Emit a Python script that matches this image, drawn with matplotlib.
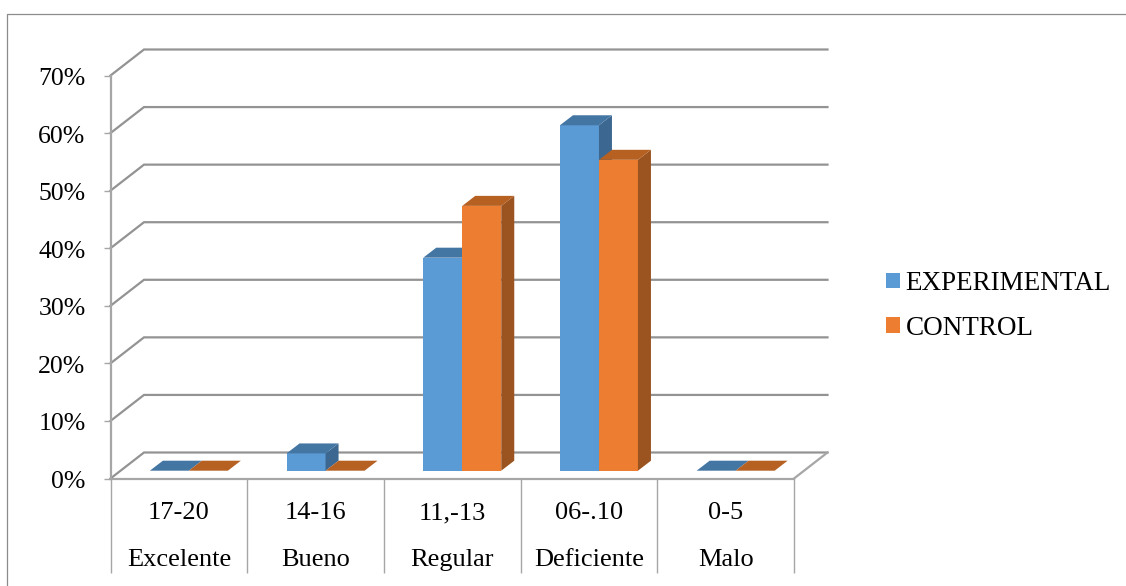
import matplotlib
matplotlib.use('Agg')
import matplotlib.pyplot as plt
from matplotlib.lines import Line2D
from matplotlib.patches import Patch, Polygon
from matplotlib.transforms import Affine2D

plt.rcParams['font.family'] = ['Liberation Serif', 'DejaVu Serif']

rangos = ['17-20', '14-16', '11,-13', '06-.10', '0-5']
niveles = ['Excelente', 'Bueno', 'Regular', 'Deficiente', 'Malo']
experimental = [0, 3, 37, 60, 0]
control = [0, 0, 46, 54, 0]
y_ticks = [0, 10, 20, 30, 40, 50, 60, 70]

W, H = 1126, 586
GRIS = '#939393'
GRIS_EJE = '#A6A6A6'

fig = plt.figure(figsize=(W / 100, H / 100), dpi=100)
# plano frontal del grafico, en pixeles de la imagen
left, right, top, bottom = 110.5, 794, 75.5, 478.5
ax = fig.add_axes([left / W, 1 - bottom / H, (right - left) / W, (bottom - top) / H])
ax.set_xlim(0, 5)
ax.set_ylim(0, 70)
ax.patch.set_visible(False)

# conversion de pixeles a unidades de datos
px_x = 5 / (right - left)
px_y = 70 / (bottom - top)

# profundidad de la pared del fondo
fondo_x = 33.5 * px_x
fondo_y = 26 * px_y

for v in y_ticks:
    ax.plot([0, fondo_x, 5 + fondo_x], [v, v + fondo_y, v + fondo_y],
            color=GRIS, lw=1.6, clip_on=False, zorder=1, solid_joinstyle='miter')
ax.plot([5, 5 + fondo_x], [0, fondo_y], color=GRIS_EJE, lw=1.6, clip_on=False, zorder=1)

# barras: cara frontal con bar(), cara superior y lateral con poligonos
ancho = 39 * px_x
prof_x = 13 * px_x
prof_y = 10 * px_y
base_x = 10 * px_x
base_y = 7.8 * px_y


def barra_3d(x0, valor, color, color_sup, color_lado, orden):
    y1 = base_y + valor
    x1 = x0 + ancho
    if valor > 0:
        ax.bar(x0, valor, width=ancho, bottom=base_y, align='edge', color=color,
               clip_on=False, zorder=orden)
        ax.add_patch(Polygon([(x1, base_y), (x1 + prof_x, base_y + prof_y),
                              (x1 + prof_x, y1 + prof_y), (x1, y1)],
                             facecolor=color_lado, edgecolor='none', clip_on=False, zorder=orden))
    ax.add_patch(Polygon([(x0, y1), (x1, y1), (x1 + prof_x, y1 + prof_y), (x0 + prof_x, y1 + prof_y)],
                         facecolor=color_sup, edgecolor='none', clip_on=False, zorder=orden))


for i in range(len(rangos)):
    centro = i + 0.5 + base_x
    barra_3d(centro - ancho, experimental[i], '#5B9BD5', '#4476A4', '#3B6790', 3 + i)
    barra_3d(centro, control[i], '#ED7D31', '#B66022', '#9B531F', 3.5 + i)

# ejes
for s in ['top', 'right']:
    ax.spines[s].set_visible(False)
for s in ['left', 'bottom']:
    ax.spines[s].set_color(GRIS_EJE)
    ax.spines[s].set_linewidth(1.6)
    ax.spines[s].set_zorder(2)

ax.set_yticks(y_ticks)
ax.set_yticklabels([f'{v}%' for v in y_ticks], fontsize=18.5)
ax.tick_params(axis='y', length=5, width=1, color=GRIS_EJE, pad=13)
for lab in ax.get_yticklabels():
    lab.set_transform(lab.get_transform() + Affine2D().translate(0, -1))
ax.set_xticks(range(6))
ax.set_xticklabels([])
ax.tick_params(axis='x', length=68, width=1, color=GRIS_EJE)

for i in range(len(rangos)):
    ax.text(i + 0.5, -40.5 * px_y, rangos[i], ha='center', va='baseline', fontsize=19, clip_on=False)
    ax.text(i + 0.5, -87.5 * px_y, niveles[i], ha='center', va='baseline', fontsize=19, clip_on=False)

handles = [Patch(facecolor='#5B9BD5', label='EXPERIMENTAL'),
           Patch(facecolor='#ED7D31', label='CONTROL')]
fig.legend(handles=handles, loc='center left', bbox_to_anchor=(886 / W, 1 - 306 / H),
           frameon=False, fontsize=19.5, handlelength=0.52, handleheight=0.52,
           handletextpad=0.2, labelspacing=0.73, borderpad=0, borderaxespad=0)

# borde del area del grafico
fig.add_artist(Line2D([7.5 / W, 7.5 / W, 1], [0, 1 - 13.5 / H, 1 - 13.5 / H],
                      color='#8C8C8C', lw=0.9))

fig.savefig('out.png', dpi=100)
